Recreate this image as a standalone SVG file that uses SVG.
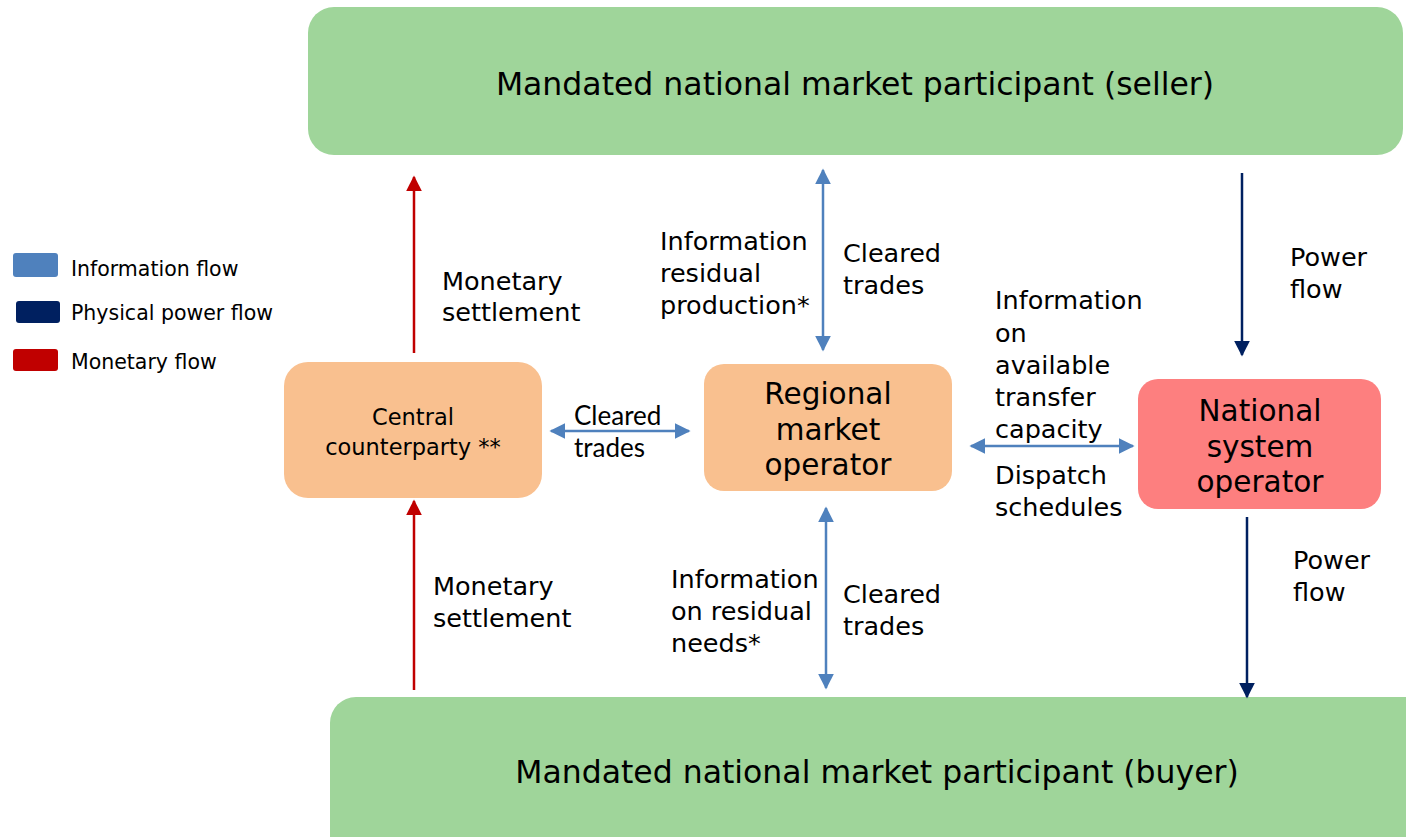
<svg xmlns="http://www.w3.org/2000/svg" width="1406" height="837" viewBox="0 0 1406 837">
<style>
.t{font-family:"DejaVu Sans","Noto Sans",sans-serif;fill:#000}
.big{font-size:29.5px}
.mid{font-size:25.5px}
.leg{font-size:20.5px}
.cal{font-family:"Lato","Liberation Sans",sans-serif;font-size:26px;fill:#000}
.info{stroke:#4f81bd;stroke-width:2.5;fill:none}
.pow{stroke:#002060;stroke-width:2.5;fill:none}
.mon{stroke:#c00000;stroke-width:2.5;fill:none}
</style>
<defs>
<marker id="ai" viewBox="0 0 10 10" refX="9" refY="5" markerWidth="6.4" markerHeight="6.4" orient="auto-start-reverse" markerUnits="strokeWidth"><path d="M0,0 L10,5 L0,10 z" fill="#4f81bd"/></marker>
<marker id="ap" viewBox="0 0 10 10" refX="9" refY="5" markerWidth="6.4" markerHeight="6.4" orient="auto" markerUnits="strokeWidth"><path d="M0,0 L10,5 L0,10 z" fill="#002060"/></marker>
<marker id="am" viewBox="0 0 10 10" refX="9" refY="5" markerWidth="6.4" markerHeight="6.4" orient="auto" markerUnits="strokeWidth"><path d="M0,0 L10,5 L0,10 z" fill="#c00000"/></marker>
</defs>
<rect width="1406" height="837" fill="#fff"/>

<g id="legend">
<rect x="13" y="253" width="45" height="24" rx="3" fill="#4f81bd"/>
<rect x="16" y="301" width="44" height="22" rx="3" fill="#002060"/>
<rect x="13" y="349" width="45" height="22" rx="3" fill="#c00000"/>
<text class="t leg" x="71" y="276">Information flow</text>
<text class="t leg" x="71" y="320">Physical power flow</text>
<text class="t leg" x="71" y="369">Monetary flow</text>
</g>

<g id="seller">
<rect x="308" y="7" width="1095" height="148" rx="26" fill="#9fd59a"/>
<text class="t" font-size="31.5" x="855" y="95" text-anchor="middle">Mandated national market participant (seller)</text>
</g>
<g id="buyer">
<rect x="330" y="697" width="1100" height="170" rx="26" fill="#9fd59a"/>
<text class="t" font-size="31.5" x="877" y="783" text-anchor="middle">Mandated national market participant (buyer)</text>
</g>
<g id="ccp">
<rect x="284" y="362" width="258" height="136" rx="24" fill="#f9c08f"/>
<text class="t" font-size="22.5" x="413" y="425" text-anchor="middle">Central</text>
<text class="t" font-size="22.5" x="413" y="455" text-anchor="middle">counterparty **</text>
</g>
<g id="rmo">
<rect x="704" y="364" width="248" height="127" rx="20" fill="#f9c08f"/>
<text class="t big" x="828" y="404" text-anchor="middle">Regional</text>
<text class="t big" x="828" y="440" text-anchor="middle">market</text>
<text class="t big" x="828" y="475" text-anchor="middle">operator</text>
</g>
<g id="nso">
<rect x="1138" y="379" width="243" height="130" rx="20" fill="#fd7f7f"/>
<text class="t big" x="1260" y="421" text-anchor="middle">National</text>
<text class="t big" x="1260" y="457" text-anchor="middle">system</text>
<text class="t big" x="1260" y="492" text-anchor="middle">operator</text>
</g>

<g id="connectors">
<line class="mon" x1="414" y1="353" x2="414" y2="177" marker-end="url(#am)"/>
<line class="mon" x1="414" y1="690" x2="414" y2="501" marker-end="url(#am)"/>
<line class="info" x1="823" y1="350" x2="823" y2="170" marker-start="url(#ai)" marker-end="url(#ai)"/>
<line class="info" x1="826" y1="688" x2="826" y2="508" marker-start="url(#ai)" marker-end="url(#ai)"/>
<line class="info" x1="551" y1="431" x2="689" y2="431" marker-start="url(#ai)" marker-end="url(#ai)"/>
<line class="info" x1="971" y1="446" x2="1133" y2="446" marker-start="url(#ai)" marker-end="url(#ai)"/>
<line class="pow" x1="1242" y1="173" x2="1242" y2="355" marker-end="url(#ap)"/>
<line class="pow" x1="1247" y1="517" x2="1247" y2="697" marker-end="url(#ap)"/>
</g>

<g id="labels">
<text class="t mid" x="442" y="290">Monetary</text>
<text class="t mid" x="442" y="321">settlement</text>
<text class="t mid" x="433" y="595">Monetary</text>
<text class="t mid" x="433" y="627">settlement</text>
<text class="t mid" x="660" y="250">Information</text>
<text class="t mid" x="660" y="282">residual</text>
<text class="t mid" x="660" y="314">production*</text>
<text class="t mid" x="843" y="262">Cleared</text>
<text class="t mid" x="843" y="294">trades</text>
<text class="t mid" x="671" y="588">Information</text>
<text class="t mid" x="671" y="620">on residual</text>
<text class="t mid" x="671" y="652">needs*</text>
<text class="t mid" x="843" y="603">Cleared</text>
<text class="t mid" x="843" y="635">trades</text>
<text class="t mid" x="995" y="309">Information</text>
<text class="t mid" x="995" y="342">on</text>
<text class="t mid" x="995" y="374">available</text>
<text class="t mid" x="995" y="406">transfer</text>
<text class="t mid" x="995" y="438">capacity</text>
<text class="t mid" x="995" y="484">Dispatch</text>
<text class="t mid" x="995" y="516">schedules</text>
<text class="t mid" x="1290" y="266">Power</text>
<text class="t mid" x="1290" y="298">flow</text>
<text class="t mid" x="1293" y="569">Power</text>
<text class="t mid" x="1293" y="601">flow</text>
<text class="cal" x="574" y="425">Cleared</text>
<text class="cal" x="574" y="457">trades</text>
</g>
</svg>
